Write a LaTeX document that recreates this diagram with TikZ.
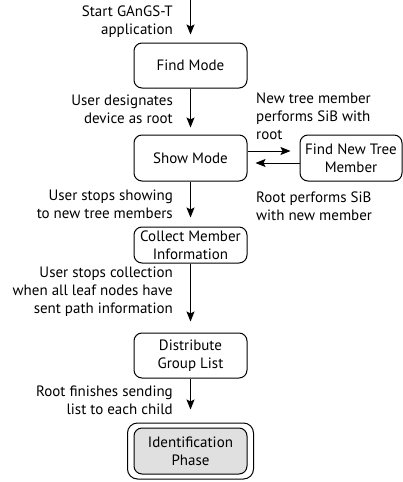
\documentclass[tikz,border=0pt]{standalone}
\usepackage{fontspec}
\setmainfont{PT Sans}
\usetikzlibrary{arrows.meta}
\begin{document}
\begin{tikzpicture}[x=1pt,y=-1pt,
  every node/.style={font=\fontsize{15}{18}\selectfont},
  state/.style={draw,line width=1pt,rounded corners=8pt,minimum width=113pt,align=center,inner sep=0pt},
  lbl/.style={align=right,anchor=east,inner sep=0pt},
  rlbl/.style={align=left,anchor=west,inner sep=0pt},
  flow/.style={line width=1pt,-{Stealth[length=10pt,width=8pt,inset=2pt]}}]
\useasboundingbox (0,0) rectangle (403,482);
\coordinate (top) at (190.5,0);
\node[state,minimum height=45pt] (find) at (190.5,65.5) {Find Mode};
\node[state,minimum height=46pt] (show) at (190.5,158) {Show Mode};
\node[state,minimum height=46pt,minimum width=102pt] (fntm) at (351,158) {Find New Tree\\Member};
\node[state,minimum height=36pt] (coll) at (190.5,245) {Collect Member\\Information};
\node[state,minimum height=45pt] (dist) at (190.5,355.5) {Distribute\\Group List};
\node[state,minimum height=46pt,fill=black!12] (ident) at (190.5,451) {Identification\\Phase};
\node[draw,line width=1pt,rounded corners=10pt,minimum width=126pt,minimum height=56pt,inner sep=0pt] (outer) at (190.5,451) {};
\draw[flow] (top) -- ([yshift=8pt]find.north);
\draw[flow] (find) -- ([yshift=7pt]show.north);
\draw[flow] (show) -- ([yshift=9pt]coll.north);
\draw[flow] (coll) -- ([yshift=11pt]dist.north);
\draw[flow] (dist) -- ([yshift=13pt]outer.north);
\draw[flow] ([yshift=7pt]show.east) -- ([xshift=-9pt,yshift=7pt]fntm.west);
\draw[flow] ([yshift=-5pt]fntm.west) -- ([xshift=8pt,yshift=-5pt]show.east);
\node[lbl] (l1) at (173,22) {Start GAnGS-T\\application};
\node[lbl] (l2) at (173,109) {User designates\\device as root};
\node[rlbl] (l3) at (256,116) {New tree member\\performs SiB with\\root};
\node[lbl] (l4) at (173,204) {User stops showing\\to new tree members};
\node[rlbl] (l5) at (256,206) {Root performs SiB\\with new member};
\node[lbl] (l6) at (173,292) {User stops collection\\when all leaf nodes have\\sent path information};
\node[lbl] (l7) at (173,400) {Root finishes sending\\list to each child};
\end{tikzpicture}
\end{document}
